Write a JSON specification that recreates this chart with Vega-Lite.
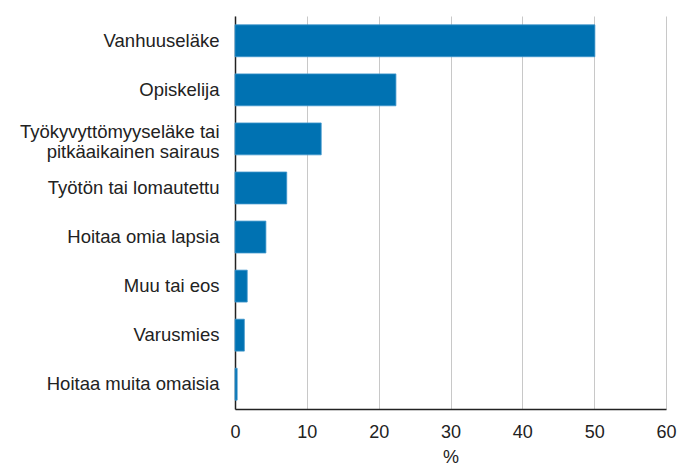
{
  "$schema": "https://vega.github.io/schema/vega-lite/v6.json",
  "autosize": "none",
  "width": 431,
  "height": 393,
  "padding": {"left": 235, "top": 16, "right": 12, "bottom": 57},
  "background": "white",
  "data": {
    "values": [
      {"luokka": "Vanhuuseläke", "osuus": 50.1},
      {"luokka": "Opiskelija", "osuus": 22.4},
      {"luokka": "Työkyvyttömyyseläke tai pitkäaikainen sairaus", "osuus": 12.0},
      {"luokka": "Työtön tai lomautettu", "osuus": 7.2},
      {"luokka": "Hoitaa omia lapsia", "osuus": 4.3},
      {"luokka": "Muu tai eos", "osuus": 1.7},
      {"luokka": "Varusmies", "osuus": 1.3},
      {"luokka": "Hoitaa muita omaisia", "osuus": 0.3}
    ]
  },
  "mark": {"type": "bar", "color": "#0072b2", "stroke": "#3d95cc", "strokeWidth": 0.8},
  "encoding": {
    "y": {
      "field": "luokka",
      "type": "nominal",
      "sort": null,
      "scale": {"paddingInner": 0.35, "paddingOuter": 0.18},
      "axis": {
        "title": null,
        "ticks": false,
        "domainColor": "#222222",
        "domainWidth": 1.5,
        "labelFont": "Liberation Sans",
        "labelFontSize": 18.5,
        "labelColor": "#222222",
        "labelPadding": 16,
        "labelLimit": 300,
        "labelLineHeight": 20,
        "labelOffset": {"condition": {"test": "datum.value == 'Työkyvyttömyyseläke tai pitkäaikainen sairaus'", "value": -7}, "value": 0},
        "labelExpr": "datum.value == 'Työkyvyttömyyseläke tai pitkäaikainen sairaus' ? ['Työkyvyttömyyseläke tai', 'pitkäaikainen sairaus'] : datum.value"
      }
    },
    "x": {
      "field": "osuus",
      "type": "quantitative",
      "scale": {"domain": [0, 60], "nice": false},
      "axis": {
        "title": "%",
        "values": [0, 10, 20, 30, 40, 50, 60],
        "ticks": false,
        "grid": true,
        "gridColor": "#c8c8c8",
        "gridWidth": 1,
        "domainColor": "#222222",
        "domainWidth": 1.5,
        "labelFont": "Liberation Sans",
        "labelFontSize": 18,
        "labelColor": "#222222",
        "labelPadding": 14,
        "labelFlush": false,
        "titleFont": "Liberation Sans",
        "titleFontSize": 18,
        "titleFontWeight": "normal",
        "titleColor": "#222222",
        "titlePadding": 7
      }
    }
  },
  "config": {"view": {"stroke": null}}
}
